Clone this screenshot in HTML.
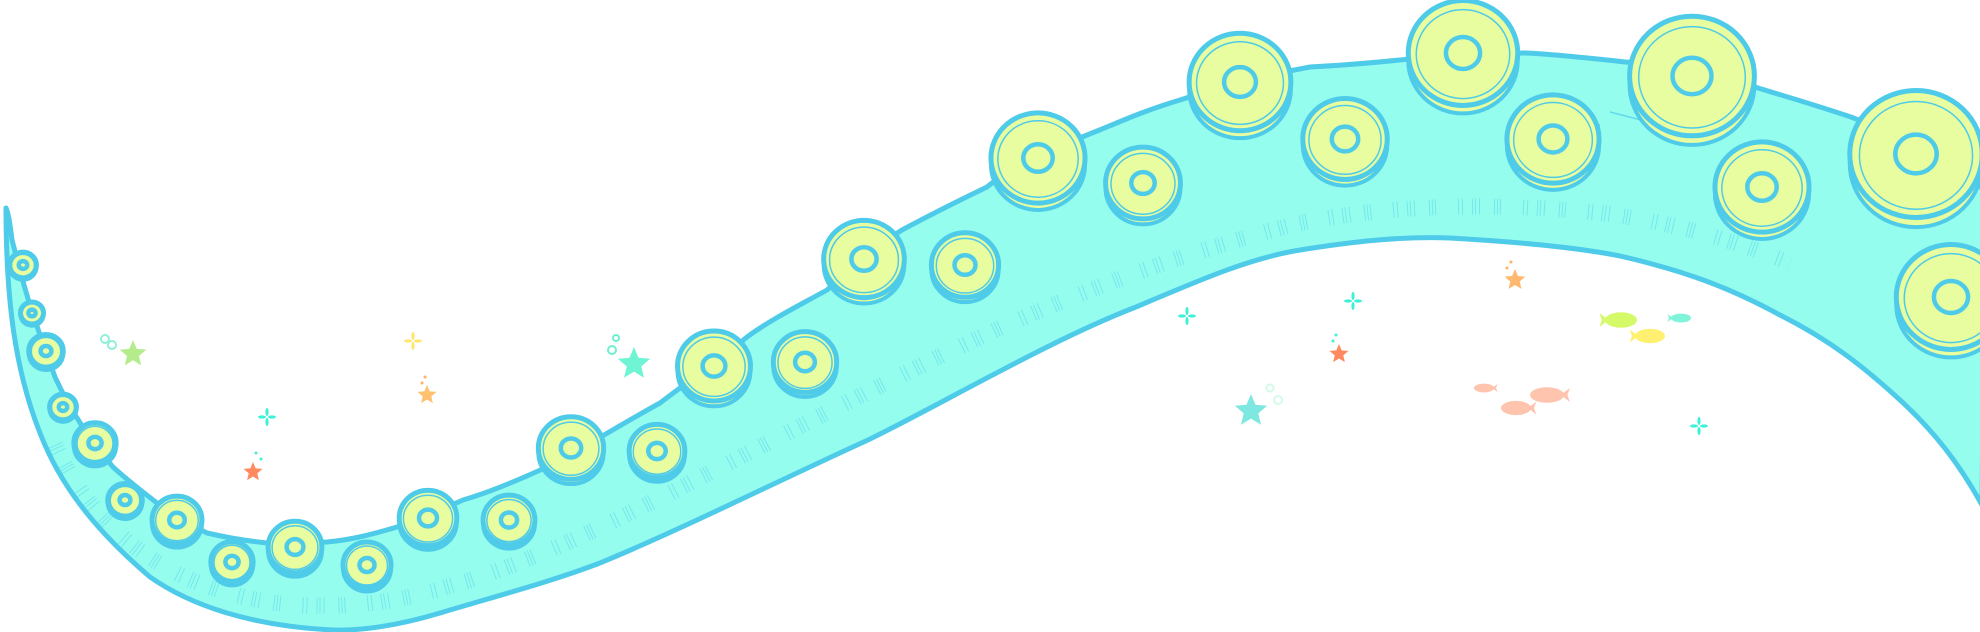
<!DOCTYPE html>
<html><head><meta charset="utf-8"><style>html,body{margin:0;padding:0;background:#fff}svg{display:block}</style></head>
<body>
<svg width="1980" height="632" viewBox="0 0 1980 632" xmlns="http://www.w3.org/2000/svg">
<defs>
<g id="suck">
<ellipse cx="0" cy="7" rx="48" ry="46" fill="#e8fd9f" stroke="#4ecbe9" stroke-width="4" vector-effect="non-scaling-stroke"/>
<ellipse cx="0" cy="0" rx="48" ry="46" fill="#e8fd9f" stroke="#4ecbe9" stroke-width="5" vector-effect="non-scaling-stroke"/>
<ellipse cx="0" cy="1" rx="41" ry="39" fill="none" stroke="#4ecbe9" stroke-width="1.5" vector-effect="non-scaling-stroke"/>
<ellipse cx="0" cy="0" rx="15" ry="14" fill="none" stroke="#4ecbe9" stroke-width="4.5" vector-effect="non-scaling-stroke"/>
</g>
<polygon id="star" points="0,-1 .265,-.364 .951,-.309 .428,.139 .588,.809 0,.45 -.588,.809 -.428,.139 -.951,-.309 -.265,-.364"/>
<g id="sparkle"><ellipse cx="0" cy="-5" rx="1.6" ry="4"/><ellipse cx="0" cy="5" rx="1.6" ry="4"/><ellipse cx="-5" cy="0" rx="4" ry="1.6"/><ellipse cx="5" cy="0" rx="4" ry="1.6"/></g>
<g id="fish"><ellipse cx="0" cy="0" rx="1" ry="0.55"/><polygon points="-0.8,0 -1.35,-0.5 -1.2,0 -1.35,0.5"/></g>
</defs>

<!-- body -->
<path d="M6,208 C6,300 15,370 40,433 C60,485 95,530 150,577 C190,605 250,626 333,630 C370,631 410,622 440,613 C500,595 550,582 600,563 C680,530 780,480 868,440 C940,405 1050,340 1136,307 C1200,280 1250,258 1300,250 C1350,242 1400,236 1450,238 C1520,242 1580,248 1620,256 C1690,272 1734,290 1780,315 C1830,340 1864,367 1900,400 C1935,432 1960,465 1982,505 L1985,190 C1940,160 1900,135 1851,117 C1800,100 1770,92 1755,87 C1700,72 1660,64 1625,62 C1580,57 1550,54 1525,53 C1460,54 1430,57 1400,60 C1370,63 1330,66 1310,67 C1250,78 1210,90 1180,100 C1140,112 1120,122 1092,133 C1050,150 1010,168 987,187 C960,200 930,215 902,230 C870,250 850,270 827,290 C800,305 770,320 747,337 C720,360 690,380 660,403 C620,425 580,450 547,467 C510,484 480,495 463,500 C430,515 410,522 397,527 C370,535 350,540 327,542 C300,543 280,543 267,543 C240,540 225,537 207,533 C185,522 170,512 157,503 C140,490 125,478 113,467 C90,440 70,410 55,377 C45,350 38,330 30,305 C22,280 16,255 12,240 C10,225 9,215 6,208 Z" fill="#95fdee" stroke="#4ecbe9" stroke-width="5" stroke-linejoin="round"/>

<!-- hatching -->
<path d="M55,445 C80,500 120,545 180,575 C240,602 300,612 380,602 C470,588 560,548 650,503 C760,448 870,388 1000,328 C1100,283 1200,248 1300,223 C1400,203 1500,203 1600,213 C1680,223 1740,243 1790,263" fill="none" stroke="#4ecbe9" stroke-width="16" stroke-dasharray="1 2 1 3 1 14 1 2 1 2 1 22 1 3 1 9" opacity="0.45"/>
<path d="M1540,110 L1600,125 M1610,112 L1680,130" stroke="#4ecbe9" stroke-width="1.5" opacity="0.7"/>

<!-- suckers -->
<g>
<use href="#suck" transform="translate(23,265) scale(0.28)"/>
<use href="#suck" transform="translate(32,313) scale(0.24)"/>
<use href="#suck" transform="translate(46,351) scale(0.36)"/>
<use href="#suck" transform="translate(63,407) scale(0.28)"/>
<use href="#suck" transform="translate(95,443) scale(0.44)"/>
<use href="#suck" transform="translate(125,500) scale(0.36)"/>
<use href="#suck" transform="translate(177,520) scale(0.52)"/>
<use href="#suck" transform="translate(232,562) scale(0.44)"/>
<use href="#suck" transform="translate(295,547) scale(0.56)"/>
<use href="#suck" transform="translate(367,565) scale(0.5)"/>
<use href="#suck" transform="translate(428,518) scale(0.6)"/>
<use href="#suck" transform="translate(509,520) scale(0.54)"/>
<use href="#suck" transform="translate(571,448) scale(0.68)"/>
<use href="#suck" transform="translate(657,451) scale(0.58)"/>
<use href="#suck" transform="translate(714,366) scale(0.76)"/>
<use href="#suck" transform="translate(805,362) scale(0.66)"/>
<use href="#suck" transform="translate(864,259) scale(0.84)"/>
<use href="#suck" transform="translate(965,265) scale(0.7)"/>
<use href="#suck" transform="translate(1038,158) scale(0.98)"/>
<use href="#suck" transform="translate(1143,183) scale(0.78)"/>
<use href="#suck" transform="translate(1240,82) scale(1.06)"/>
<use href="#suck" transform="translate(1345,139) scale(0.88)"/>
<use href="#suck" transform="translate(1463,53) scale(1.14)"/>
<use href="#suck" transform="translate(1553,139) scale(0.96)"/>
<use href="#suck" transform="translate(1692,76) scale(1.3)"/>
<use href="#suck" transform="translate(1762,187) scale(0.98)"/>
<use href="#suck" transform="translate(1916,154) scale(1.38)"/>
<use href="#suck" transform="translate(1951,297) scale(1.14)"/>
</g>

<!-- decorations -->
<g fill="none" stroke-width="2">
<circle cx="105" cy="339" r="4" stroke="#8ef0d8"/><circle cx="112" cy="345" r="4" stroke="#8ef0d8"/>
<circle cx="612" cy="350" r="4" stroke="#6ff0d0"/><circle cx="616" cy="338" r="3" stroke="#6ff0d0"/>
<circle cx="1270" cy="388" r="3.5" stroke="#d4fbe8"/><circle cx="1278" cy="400" r="4" stroke="#d4fbe8"/>
</g>
<use href="#star" fill="#b4ec8c" transform="translate(133,354) scale(14)"/>
<use href="#star" fill="#ffc070" transform="translate(427,395) scale(10)"/>
<use href="#star" fill="#ff8a60" transform="translate(253,472) scale(10)"/>
<use href="#star" fill="#6ff4d4" transform="translate(634,364) scale(17)"/>
<use href="#star" fill="#ffb870" transform="translate(1515,280) scale(11)"/>
<use href="#star" fill="#ff8a60" transform="translate(1339,354) scale(10)"/>
<use href="#star" fill="#7ee8e0" transform="translate(1251,411) scale(17)"/>
<g fill="#ffb060"><circle cx="422" cy="383" r="1.5"/><circle cx="425" cy="377" r="1.5"/><circle cx="1507" cy="268" r="1.5"/><circle cx="1511" cy="262" r="1.5"/></g>
<g fill="#3ff0d8"><circle cx="256" cy="453" r="1.5"/><circle cx="261" cy="459" r="1.5"/><circle cx="1333" cy="341" r="1.5"/><circle cx="1336" cy="335" r="1.5"/></g>
<use href="#sparkle" fill="#ffe66a" transform="translate(413,341)"/>
<use href="#sparkle" fill="#3ff0d8" transform="translate(267,417)"/>
<use href="#sparkle" fill="#3ff0d8" transform="translate(1187,316)"/>
<use href="#sparkle" fill="#3ff0d8" transform="translate(1353,301)"/>
<use href="#sparkle" fill="#3ff0d8" transform="translate(1699,426)"/>
<use href="#fish" fill="#d4fa6a" transform="translate(1621,320) scale(16,14)"/>
<use href="#fish" fill="#7ff4d8" transform="translate(1681,318) scale(10,8)"/>
<use href="#fish" fill="#fff070" transform="translate(1650,336) scale(15,13)"/>
<use href="#fish" fill="#ffc4ae" transform="translate(1484,388) scale(-10,8)"/>
<use href="#fish" fill="#ffc4ae" transform="translate(1547,395) scale(-17,14)"/>
<use href="#fish" fill="#ffc4ae" transform="translate(1516,408) scale(-15,13)"/>
</svg>
</body></html>
